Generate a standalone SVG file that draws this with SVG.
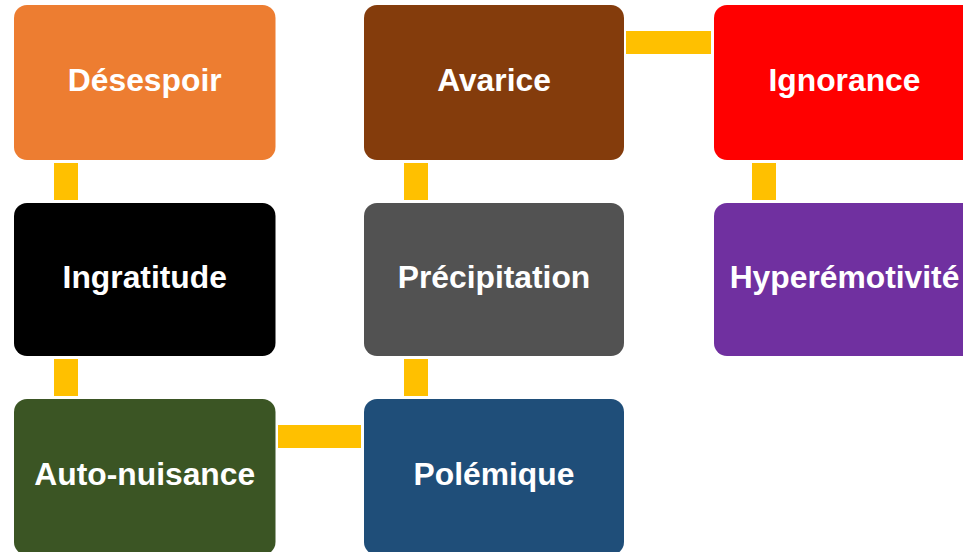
<svg xmlns="http://www.w3.org/2000/svg" width="963" height="552" viewBox="0 0 963 552">
<style>
.box{stroke:none}
.lbl{font-family:"Liberation Sans",Arial,sans-serif;font-weight:bold;font-size:31.8px;fill:#fff;text-anchor:middle}
.con{fill:#FFC000}
</style>
<rect width="963" height="552" fill="#fff"/>
<g id="connectors">
<rect class="con" x="54" y="163" width="24" height="37"/>
<rect class="con" x="54" y="359" width="24" height="37"/>
<rect class="con" x="404" y="163" width="24" height="37"/>
<rect class="con" x="404" y="359" width="24" height="37"/>
<rect class="con" x="752" y="163" width="24" height="37"/>
<rect class="con" x="626" y="31" width="85" height="23"/>
<rect class="con" x="278" y="425" width="83" height="23"/>
</g>
<g id="desespoir"><rect class="box" x="14" y="5" width="261.5" height="155" rx="13" fill="#ED7D31"/><text class="lbl" x="144.75" y="91">Désespoir</text></g>
<g id="ingratitude"><rect class="box" x="14" y="203" width="261.5" height="153" rx="13" fill="#000000"/><text class="lbl" x="144.75" y="288">Ingratitude</text></g>
<g id="auto-nuisance"><rect class="box" x="14" y="399" width="261.5" height="156" rx="13" fill="#3B5524"/><text class="lbl" x="144.75" y="485">Auto-nuisance</text></g>
<g id="avarice"><rect class="box" x="364" y="5" width="260" height="155" rx="13" fill="#843C0C"/><text class="lbl" x="494" y="91">Avarice</text></g>
<g id="precipitation"><rect class="box" x="364" y="203" width="260" height="153" rx="13" fill="#525252"/><text class="lbl" x="494" y="288">Précipitation</text></g>
<g id="polemique"><rect class="box" x="364" y="399" width="260" height="156" rx="13" fill="#1F4E79"/><text class="lbl" x="494" y="485">Polémique</text></g>
<g id="ignorance"><rect class="box" x="714" y="5" width="261" height="155" rx="13" fill="#FF0000"/><text class="lbl" x="844.5" y="91">Ignorance</text></g>
<g id="hyperemotivite"><rect class="box" x="714" y="203" width="261" height="153" rx="13" fill="#7030A0"/><text class="lbl" x="844.5" y="288">Hyperémotivité</text></g>
</svg>
